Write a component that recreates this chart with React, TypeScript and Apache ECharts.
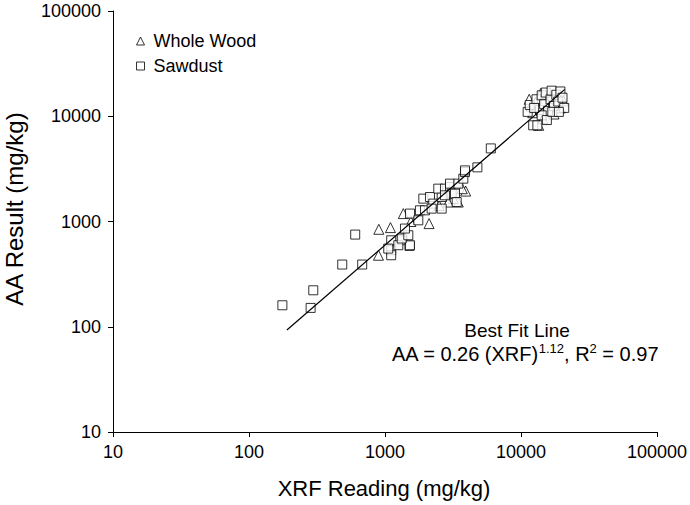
import React, { useEffect, useRef } from "react";
import * as echarts from "echarts";

const FONT = "'Liberation Sans', Arial, Helvetica, sans-serif";

const xTicks = [10, 100, 1000, 10000, 100000];
const yTicks = [10, 100, 1000, 10000, 100000];

const wholeWood: [number, number][] = [
  [896, 478], [901, 843], [1097, 875], [1364, 1189], [2110, 955],
  [1550, 1000], [3920, 1946], [3460, 1531], [3179, 1649], [2919, 1531],
  [2500, 1420], [3700, 2050],
  [11500, 14500], [11800, 12500], [12800, 13500], [13500, 8200], [14500, 9500],
  [15500, 12500], [16500, 15500], [17500, 10500], [18500, 13500], [20500, 14000],
  [14000, 16500], [19500, 12000], [12200, 10800],
];

const sawdust: [number, number][] = [
  [176, 160], [284, 151], [297, 222], [485, 390], [680, 390], [604, 751],
  [1111, 663], [1111, 533], [1111, 478], [1343, 663], [1513, 586],
  [1057, 553], [1253, 595], [1527, 595], [1327, 689], [1484, 740], [1403, 857],
  [1527, 1189], [1758, 1026], [1808, 1277], [1968, 1277], [1914, 1649],
  [2142, 1708], [2265, 1479], [2203, 1325], [2612, 1325], [2612, 1708],
  [2466, 2052], [2761, 2052], [3006, 2125], [3093, 1840], [3273, 1840],
  [3006, 2290], [3460, 2290], [3767, 2553], [3873, 2951], [2761, 1774],
  [3368, 1531], [3880, 3060], [4780, 3270], [6000, 4950],
  [11200, 11000], [11600, 12800], [12300, 8200], [13200, 8200], [13000, 14500],
  [13800, 11500], [14200, 15800], [14800, 13000], [15200, 16800], [15800, 11200],
  [16500, 14500], [16800, 17500], [17500, 12500], [18200, 16000], [18800, 13800],
  [19500, 17200], [20200, 15000], [20800, 12000], [14200, 10200], [15500, 9200],
  [12500, 12000], [17000, 11000], [19000, 11000],
];

const fitLine: [number, number][] = [
  [190, 93],
  [21000, 18000],
];

const seriesNames = ["Whole Wood", "Sawdust"];
const xTitle = "XRF Reading (mg/kg)";
const yTitle = "AA Result (mg/kg)";
const fitTitle = "Best Fit Line";

export default function App() {
  const ref = useRef<HTMLDivElement>(null);
  useEffect(() => {
    if (!ref.current) return;
    const chart = echarts.init(ref.current, undefined, { renderer: "svg" });
    const hollow = { color: "#ffffff", borderColor: "#000000", borderWidth: 1 };
    const axisCommon = {
      type: "log" as const,
      logBase: 10,
      min: 10,
      max: 100000,
      splitNumber: 4,
      splitLine: { show: false },
      axisLine: { show: true, lineStyle: { color: "#000", width: 1 } },
      axisTick: { show: true, inside: false, length: 5, lineStyle: { color: "#000" } },
    };
    chart.setOption({
      animation: false,
      backgroundColor: "#ffffff",
      grid: { left: 113, right: 33, top: 11, bottom: 73 },
      legend: {
        orient: "vertical",
        left: 136,
        top: 32,
        padding: 0,
        itemWidth: 8,
        itemHeight: 8,
        itemGap: 7,
        textStyle: { fontSize: 18, lineHeight: 18, color: "#000", fontFamily: FONT, padding: [0, 0, 0, 4] },
        data: [
          { name: seriesNames[0], icon: "triangle", itemStyle: hollow },
          { name: seriesNames[1], icon: "rect", itemStyle: hollow },
        ],
      },
      xAxis: {
        ...axisCommon,
        axisLabel: {
          fontSize: 18,
          color: "#000",
          fontFamily: FONT,
          margin: 11,
          formatter: (v: number) => String(Math.round(v)),
        },
      },
      yAxis: {
        ...axisCommon,
        axisLabel: {
          fontSize: 18,
          color: "#000",
          fontFamily: FONT,
          margin: 12,
          formatter: (v: number) => String(Math.round(v)),
        },
      },
      series: [
        {
          name: seriesNames[0],
          type: "scatter",
          symbol: "triangle",
          symbolSize: 10,
          itemStyle: hollow,
          data: wholeWood,
          z: 2,
        },
        {
          name: seriesNames[1],
          type: "scatter",
          symbol: "rect",
          symbolSize: 9,
          itemStyle: hollow,
          data: sawdust,
          z: 3,
        },
        {
          name: "fit",
          type: "line",
          showSymbol: false,
          symbol: "none",
          lineStyle: { color: "#000", width: 1.2 },
          data: fitLine,
          z: 4,
        },
      ],
      graphic: [
        {
          type: "text",
          x: 14,
          y: 209,
          rotation: Math.PI / 2,
          style: {
            text: yTitle,
            fontSize: 24,
            fontFamily: FONT,
            fill: "#000",
            align: "center",
            verticalAlign: "middle",
          },
        },
        {
          type: "text",
          x: 384,
          y: 488,
          style: {
            text: xTitle,
            fontSize: 22,
            fontFamily: FONT,
            fill: "#000",
            align: "center",
            verticalAlign: "middle",
          },
        },
        {
          type: "text",
          x: 517,
          y: 330,
          style: {
            text: fitTitle,
            fontSize: 19,
            fontFamily: FONT,
            fill: "#000",
            align: "center",
            verticalAlign: "middle",
          },
        },
        {
          type: "text",
          x: 525,
          y: 354,
          style: {
            text: "{n|AA = 0.26 (XRF)}{s|1.12}{n|, R}{s|2}{n| = 0.97}",
            fontFamily: FONT,
            fill: "#000",
            align: "center",
            verticalAlign: "middle",
            rich: {
              n: { fontSize: 20, lineHeight: 24, fontFamily: FONT, fill: "#000" },
              s: { fontSize: 13, lineHeight: 24, fontFamily: FONT, fill: "#000", verticalAlign: "top" },
            },
          },
        },
      ],
    });
    return () => chart.dispose();
  }, []);
  return <div ref={ref} style={{ position: "fixed", left: 0, top: 0, width: 690, height: 505 }} />;
}
